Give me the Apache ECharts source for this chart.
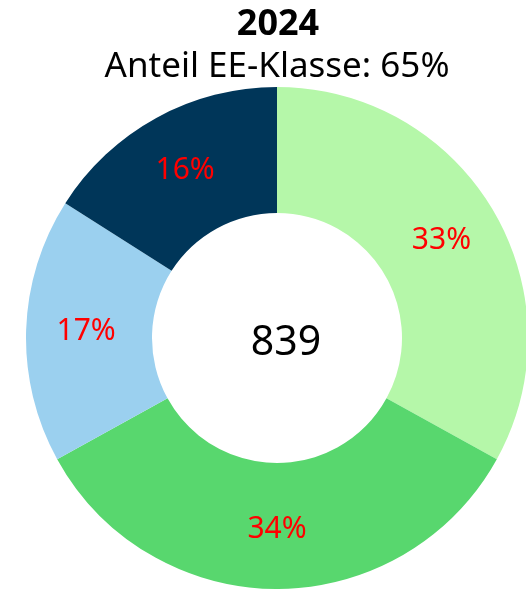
<!DOCTYPE html>
<html>
<head>
<meta charset="utf-8">
<style>
  html, body { margin: 0; padding: 0; background: #fff; }
  #main { width: 526px; height: 589px; }
</style>
<script src="https://cdn.jsdelivr.net/npm/echarts@6/dist/echarts.min.js"></script>
</head>
<body>
<div id="main"></div>
<script>
// Daten
var categories = ['A', 'B', 'C', 'D'];
var values = [277, 285, 143, 134];
var colors = ['#b5f7a9', '#58d76e', '#9bd0ef', '#003659'];
var total = 839;

var chart = echarts.init(document.getElementById('main'));
chart.setOption({
    animation: false,
    textStyle: { fontFamily: 'Noto Sans' },
    title: [{
        text: '2024',
        left: 273,
        top: 20,
        textAlign: 'center',
        textVerticalAlign: 'middle',
        textStyle: { fontSize: 36, fontWeight: 'bold', color: '#000', fontFamily: 'Noto Sans' }
    }, {
        text: 'Anteil EE-Klasse: 65%',
        left: 272,
        top: 62,
        textAlign: 'center',
        textVerticalAlign: 'middle',
        textStyle: { fontSize: 35, fontWeight: 'normal', color: '#000', fontFamily: 'Noto Sans' }
    }, {
        text: String(total),
        left: 281,
        top: 338,
        textAlign: 'center',
        textVerticalAlign: 'middle',
        textStyle: { fontSize: 41, fontWeight: 'normal', color: '#000', fontFamily: 'Noto Sans' }
    }],
    series: [{
        type: 'pie',
        center: [277, 338],
        radius: [125, 251],
        startAngle: 90,
        clockwise: true,
        silent: true,
        label: {
            position: 'inside',
            color: '#ff0000',
            fontSize: 30,
            fontFamily: 'Noto Sans',
            formatter: function (p) { return Math.round(p.percent) + '%'; }
        },
        labelLine: { show: false },
        itemStyle: { borderWidth: 0 },
        data: categories.map(function (c, i) {
            return { name: c, value: values[i], itemStyle: { color: colors[i] } };
        })
    }]
});
</script>
</body>
</html>
